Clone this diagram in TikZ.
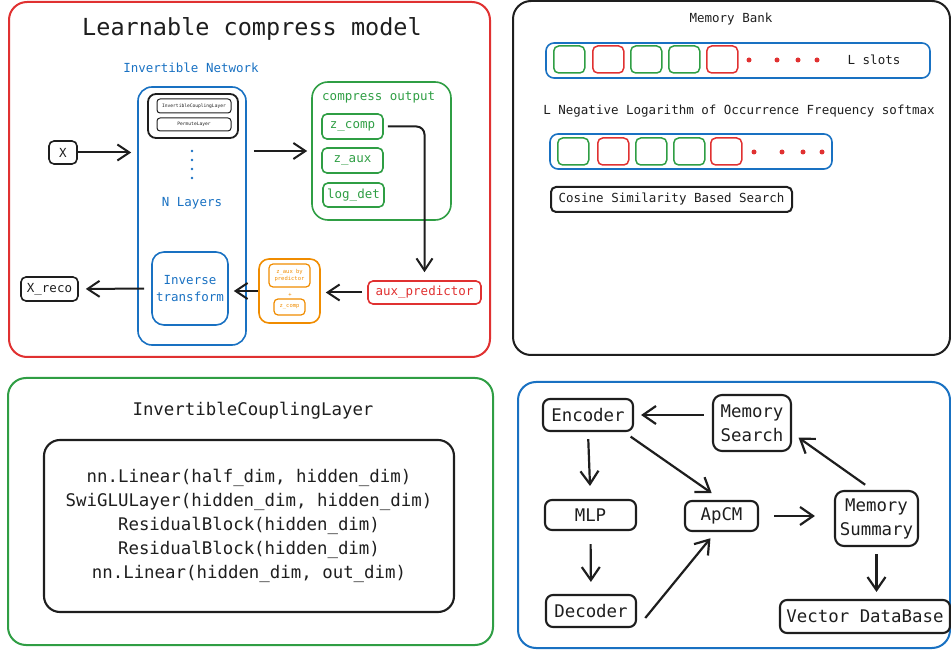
\documentclass[tikz,border=0pt]{standalone}
\usepackage{fontspec}
\setmainfont{DejaVu Sans Mono}
\usetikzlibrary{arrows.meta,positioning}
\definecolor{ink}{HTML}{1E1E1E}
\definecolor{exred}{HTML}{E03131}
\definecolor{exblue}{HTML}{1971C2}
\definecolor{exgreen}{HTML}{2F9E44}
\definecolor{exorange}{HTML}{F08C00}
\tikzset{
  panel/.style={line width=2pt, rounded corners=18pt},
  box/.style={draw, line width=1.6pt, rounded corners=5pt, inner sep=0pt, align=center},
  bbox/.style={box, ink, line width=2.1pt, rounded corners=7pt},
  arr/.style={-{Straight Barb[length=12pt,width=16pt,line width=2pt]}, line width=2pt, draw=ink},
  barr/.style={arr, -{Straight Barb[length=13pt,width=18pt,line width=2.2pt]}, line width=2.2pt},
  slot/.style={draw, line width=1.5pt, rounded corners=5pt, minimum width=31pt, minimum height=27pt},
  reddot/.style={circle, fill=exred, inner sep=0pt, minimum size=5pt},
  fa/.style={font=\fontsize{12.5}{17}\selectfont, text=ink},
  fb/.style={font=\fontsize{17.4}{24}\selectfont, text=ink},
  fs/.style={font=\fontsize{5.5}{6.5}\selectfont},
}
\begin{document}
\begin{tikzpicture}[x=1pt,y=-1pt]
\useasboundingbox (0,0) rectangle (951,652);

% learnable compress model
\draw[panel, exred] (9,2) rectangle (490,357);
\node[font=\fontsize{23.5}{28}\selectfont, text=ink] (title) at (252,29) {Learnable compress model};
\node[fa, text=exblue] (netlbl) at (191,68) {Invertible Network};
\node[box, exblue, minimum width=108pt, minimum height=258pt, rounded corners=14pt] (net) at (192,216) {};
\node[box, ink, minimum width=90pt, minimum height=44pt, rounded corners=8pt, line width=1.8pt] (stack) at (193,116) {};
\node[box, ink, fs, font=\fontsize{4.6}{5}\selectfont, minimum width=74pt, minimum height=14pt, line width=1pt, rounded corners=3pt] (icl) at (194,106) {InvertibleCouplingLayer};
\node[box, ink, fs, font=\fontsize{4.6}{5}\selectfont, minimum width=74pt, minimum height=13pt, line width=1pt, rounded corners=3pt] (perm) at (194,124.5) {PermuteLayer};
\foreach \y in {151,160,169,178}
  \fill[exblue] (192,\y) circle (1.4pt);
\node[fa, text=exblue] (nlay) at (192,203) {N Layers};
\node[box, exblue, fa, text=exblue, minimum width=76pt, minimum height=73pt, rounded corners=12pt] (inv) at (190,288.5) {Inverse\\transform};
\node[box, ink, fa, minimum width=28pt, minimum height=23pt] (x) at (63,152.5) {X};
\node[box, exgreen, minimum width=139pt, minimum height=138pt, rounded corners=16pt] (out) at (381.5,151) {};
\node[fa, text=exgreen, anchor=west, inner sep=0pt] (outlbl) at (322,97) {compress output};
\node[box, exgreen, fa, text=exgreen, minimum width=61pt, minimum height=25pt] (zc) at (352.5,126.5) {z\_comp};
\node[box, exgreen, fa, text=exgreen, minimum width=61pt, minimum height=25pt] (za) at (352.5,160.5) {z\_aux};
\node[box, exgreen, fa, text=exgreen, minimum width=61pt, minimum height=24pt] (ld) at (353.5,195) {log\_det};
\node[box, exred, fa, text=exred, minimum width=113pt, minimum height=23pt] (aux) at (424.5,292.5) {aux\_predictor};
\node[box, exorange, minimum width=61pt, minimum height=64pt, rounded corners=10pt] (pred) at (289.5,291) {};
\node[box, exorange, fs, text=exorange, minimum width=41pt, minimum height=23pt, line width=1.2pt, rounded corners=4pt] (zap) at (289.5,275.5) {z\_aux by\\predictor};
\node[fs, text=exorange, inner sep=0pt] (plus) at (290,295) {+};
\node[box, exorange, fs, text=exorange, minimum width=31pt, minimum height=16pt, line width=1.2pt, rounded corners=4pt] (zcs) at (289.5,307) {z\_comp};
\node[box, ink, fa, minimum width=57pt, minimum height=24pt] (xr) at (49.5,289) {X\_reco};

\draw[arr, shorten >=6pt] (x.east) -- (x.east -| net.west);
\draw[arr, shorten <=7pt, shorten >=4pt] (net.east |- out.west) -- (out.west);
\draw[arr, rounded corners=8pt, shorten <=4pt, shorten >=8pt] (zc.east) -| (aux.north);
\draw[arr, shorten <=5pt, shorten >=5pt] (aux.west) -- (pred.east |- aux.west);
\draw[arr, shorten >=5pt] (pred.west) -- (inv.east |- pred.west);
\draw[arr, shorten <=7pt, shorten >=7pt] (inv.west) -- (xr.east);

% memory bank
\draw[panel, ink] (513,1) rectangle (950,355);
\node[fa] (mb) at (731,19) {Memory Bank};
\node[box, exblue, minimum width=384pt, minimum height=35pt, rounded corners=8pt] (bar1) at (738,60.5) {};
\foreach \x/\c [count=\i] in {553/exgreen,592/exred,630/exgreen,668/exgreen,706/exred}
  \node[slot, \c, anchor=west] (sa\i) at (\x,59.5) {};
\foreach \x [count=\i] in {749,777,798,817}
  \node[reddot] (da\i) at (\x,60) {};
\node[fa] (lslots) at (874,60) {L slots};
\node[fa] (neg) at (739,111) {L Negative Logarithm of Occurrence Frequency softmax};
\node[box, exblue, minimum width=282pt, minimum height=35pt, rounded corners=8pt] (bar2) at (691,151.5) {};
\foreach \x/\c [count=\i] in {557/exgreen,597/exred,635/exgreen,673/exgreen,710/exred}
  \node[slot, \c, anchor=west] (sb\i) at (\x,151.5) {};
\foreach \x [count=\i] in {754,782,803,822}
  \node[reddot] (db\i) at (\x,152) {};
\node[box, ink, fa, minimum width=241pt, minimum height=25pt, line width=2pt] (cos) at (671.5,199.5) {Cosine Similarity Based Search};

% coupling layer
\draw[panel, exgreen] (8,378) rectangle (493,645);
\node[fb] (iclt) at (253,411) {InvertibleCouplingLayer};
\node[bbox, fb, minimum width=410pt, minimum height=172pt, rounded corners=16pt] (body) at (249,526)
  {nn.Linear(half\_dim, hidden\_dim)\\SwiGLULayer(hidden\_dim, hidden\_dim)\\ResidualBlock(hidden\_dim)\\ResidualBlock(hidden\_dim)\\nn.Linear(hidden\_dim, out\_dim)};

% memory flow
\draw[panel, exblue] (518,382) rectangle (950,648);
\node[bbox, fb, minimum width=90pt, minimum height=32pt] (enc) at (588,415) {Encoder};
\node[bbox, fb, minimum width=78pt, minimum height=56pt, rounded corners=9pt] (msearch) at (752,423) {Memory\\Search};
\node[bbox, fb, minimum width=91pt, minimum height=30pt] (mlp) at (590.5,515) {MLP};
\node[bbox, fb, minimum width=90pt, minimum height=32pt] (dec) at (591,611) {Decoder};
\node[bbox, fb, minimum width=73pt, minimum height=30pt] (apcm) at (721.5,516) {ApCM};
\node[bbox, fb, minimum width=83pt, minimum height=55pt, rounded corners=9pt] (msum) at (876.5,518.5) {Memory\\Summary};
\node[bbox, fb, minimum width=170pt, minimum height=33pt] (vdb) at (865,616.5) {Vector DataBase};

\draw[barr, shorten <=8pt, shorten >=7pt] (enc.east -| msearch.west) -- (enc.east);
\draw[barr, shorten <=7pt, shorten >=13pt] (enc.south) -- (mlp.north);
\draw[barr, shorten <=13pt, shorten >=12pt] (mlp.south) -- (dec.north);
\draw[barr, shorten <=8pt, shorten >=12pt] ([xshift=-10pt]enc.south east) -- (apcm.north);
\draw[barr, shorten <=13pt, shorten >=8pt] (dec.south east) -- ([xshift=-6pt]apcm.south);
\draw[barr, shorten <=15pt, shorten >=19pt] (apcm.east) -- (apcm.east -| msum.west);
\draw[barr, shorten <=9pt, shorten >=8pt] ([xshift=-4pt]msum.north) -- ([yshift=-10pt]msearch.east);
\draw[barr, shorten <=7pt, shorten >=7pt] (msum.south) -- (msum.south |- vdb.north);
\end{tikzpicture}
\end{document}
